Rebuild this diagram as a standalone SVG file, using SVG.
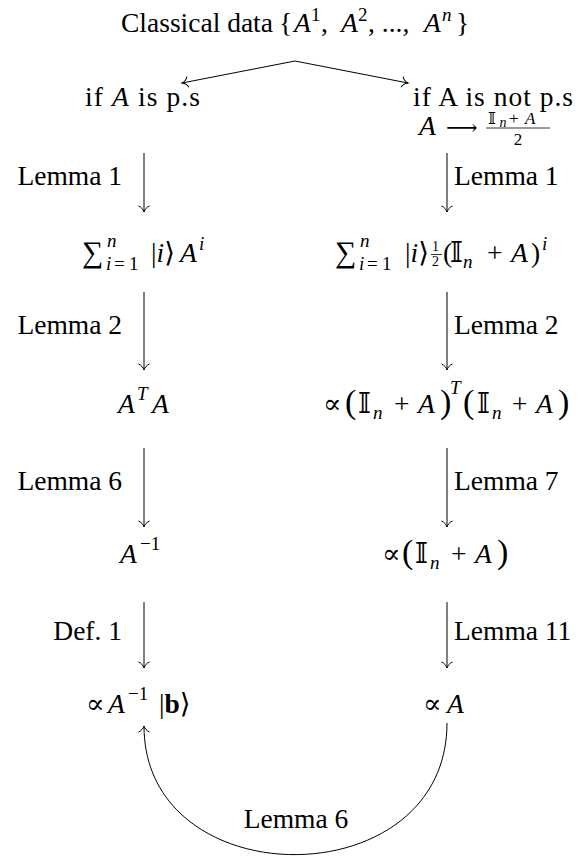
<svg xmlns="http://www.w3.org/2000/svg" width="581" height="857" viewBox="0 0 581 857">
<style>
.t{font-family:'Liberation Serif','DejaVu Serif',serif;font-size:27.5px;fill:#000}
.m{font-family:'DejaVu Serif','DejaVu Sans',serif;font-style:normal}
.i{font-style:italic}
.s{font-size:19px}
.ss{font-size:14px}
.big{font-size:34px}
.c{fill:none;stroke:#000;stroke-width:1}
</style>
<defs>
<marker id="to" viewBox="-8 -8 10 16" refX="0" refY="0" markerWidth="10" markerHeight="16" markerUnits="userSpaceOnUse" orient="auto">
<path d="M-6 -5.5 C-5 -2.5 -2 -0.6 0 0 C-2 0.6 -5 2.5 -6 5.5" fill="none" stroke="#000" stroke-width="1"/>
</marker>
</defs>
<rect width="581" height="857" fill="#fff"/>
<g id="connectors" class="c">
<path d="M295 61 L182 83" marker-end="url(#to)"/>
<path d="M295 61 L408 83" marker-end="url(#to)"/>
<path d="M144 153 V212" marker-end="url(#to)"/>
<path d="M447 153 V212" marker-end="url(#to)"/>
<path d="M144 292 V370" marker-end="url(#to)"/>
<path d="M447 292 V370" marker-end="url(#to)"/>
<path d="M144 448 V527" marker-end="url(#to)"/>
<path d="M447 448 V527" marker-end="url(#to)"/>
<path d="M144 602 V668" marker-end="url(#to)"/>
<path d="M447 602 V668" marker-end="url(#to)"/>
<path d="M447 723 C447 898 144 898 144 726" marker-end="url(#to)"/>
<path d="M486 128 H550" stroke-width="0.8"/>
<path d="M431 254.5 H442" stroke-width="0.8"/>
</g>
<g id="labels">
<text class="t" x="122" y="185" text-anchor="end">Lemma 1</text>
<text class="t" x="454" y="185">Lemma 1</text>
<text class="t" x="122" y="334" text-anchor="end">Lemma 2</text>
<text class="t" x="454" y="334">Lemma 2</text>
<text class="t" x="122" y="490" text-anchor="end">Lemma 6</text>
<text class="t" x="454" y="490">Lemma 7</text>
<text class="t" x="122" y="640" text-anchor="end">Def. 1</text>
<text class="t" x="454" y="640">Lemma 11</text>
<text class="t" x="296" y="828" text-anchor="middle">Lemma 6</text>
</g>
<g id="title">
<text class="t" y="32"><tspan x="121">Classical data</tspan><tspan x="279">{</tspan><tspan x="294" class="i">A</tspan><tspan x="311" y="21" class="s">1</tspan><tspan x="321" y="32">,</tspan><tspan x="341" class="i">A</tspan><tspan x="358" y="21" class="s">2</tspan><tspan x="368" y="32">, ..., </tspan><tspan x="424" class="i">A</tspan><tspan x="442" y="21" class="s i">n</tspan><tspan x="456" y="32">}</tspan></text>
</g>
<g id="ps">
<text class="t" x="85" y="106" textLength="115" lengthAdjust="spacing">if <tspan class="i">A</tspan> is p.s</text>
</g>
<g id="notps">
<text class="t" x="413" y="106" textLength="160" lengthAdjust="spacing">if A is not p.s</text>
<text class="t" y="135"><tspan x="419" class="i">A</tspan><tspan x="446" class="m" style="font-size:22px">⟶</tspan></text>
<text class="t" style="font-size:17px" y="124"><tspan x="488" class="m">𝕀</tspan><tspan x="499.5" y="127" class="ss i">n</tspan><tspan x="509" y="124">+</tspan><tspan x="525" class="i">A</tspan></text>
<text class="t" style="font-size:17px" x="518" y="145" text-anchor="middle">2</text>
</g>
<g id="sumL">
<text class="t" y="262"><tspan x="82" style="font-size:30px">∑</tspan><tspan x="107" y="247" class="s i">n</tspan><tspan x="106" y="270" class="s i">i</tspan><tspan x="114" y="270" class="s">=</tspan><tspan x="129" y="270" class="s">1</tspan><tspan x="151" y="262">|</tspan><tspan class="i">i</tspan><tspan class="m">⟩</tspan><tspan x="180" class="i">A</tspan><tspan x="199" y="250" class="s i">i</tspan></text>
</g>
<g id="sumR">
<text class="t" y="262"><tspan x="335" style="font-size:30px">∑</tspan><tspan x="360" y="247" class="s i">n</tspan><tspan x="359" y="270" class="s i">i</tspan><tspan x="367" y="270" class="s">=</tspan><tspan x="382" y="270" class="s">1</tspan><tspan x="405" y="262">|</tspan><tspan class="i">i</tspan><tspan class="m">⟩</tspan><tspan x="432" y="251" class="ss">1</tspan><tspan x="432" y="266" class="ss">2</tspan><tspan x="443" y="262">(</tspan><tspan x="450" class="m">𝕀</tspan><tspan x="463" y="268" class="s i">n</tspan><tspan x="487" y="262">+</tspan><tspan x="511" class="i">A</tspan><tspan x="531">)</tspan><tspan x="542" y="250" class="s i">i</tspan></text>
</g>
<g id="ataL">
<text class="t" y="413"><tspan x="118" class="i">A</tspan><tspan x="137" y="400" class="s i">T</tspan><tspan x="152" y="413" class="i">A</tspan></text>
</g>
<g id="ataR">
<text class="t" y="413"><tspan x="323" class="m">∝</tspan><tspan x="345" class="big">(</tspan><tspan x="358" class="m">𝕀</tspan><tspan x="373" y="419" class="s i">n</tspan><tspan x="394" y="413">+</tspan><tspan x="418" class="i">A</tspan><tspan x="440" class="big">)</tspan><tspan x="450" y="394" class="s i">T</tspan><tspan x="463" y="413" class="big">(</tspan><tspan x="477" class="m">𝕀</tspan><tspan x="492" y="419" class="s i">n</tspan><tspan x="512" y="413">+</tspan><tspan x="536" class="i">A</tspan><tspan x="558" class="big">)</tspan></text>
</g>
<g id="invL">
<text class="t" y="563"><tspan x="120" class="i">A</tspan><tspan x="140" y="550" class="s">−1</tspan></text>
</g>
<g id="invR">
<text class="t" y="563"><tspan x="382" class="m">∝</tspan><tspan x="402" class="big">(</tspan><tspan x="415" class="m">𝕀</tspan><tspan x="430" y="569" class="s i">n</tspan><tspan x="451" y="563">+</tspan><tspan x="475" class="i">A</tspan><tspan x="497" class="big">)</tspan></text>
</g>
<g id="resL">
<text class="t" y="713"><tspan x="86" class="m">∝</tspan><tspan x="108" class="i">A</tspan><tspan x="128" y="700" class="s">−1</tspan><tspan x="159" y="713">|</tspan><tspan font-weight="bold">b</tspan><tspan class="m">⟩</tspan></text>
</g>
<g id="resR">
<text class="t" y="713"><tspan x="423" class="m">∝</tspan><tspan x="447" class="i">A</tspan></text>
</g>
</svg>
